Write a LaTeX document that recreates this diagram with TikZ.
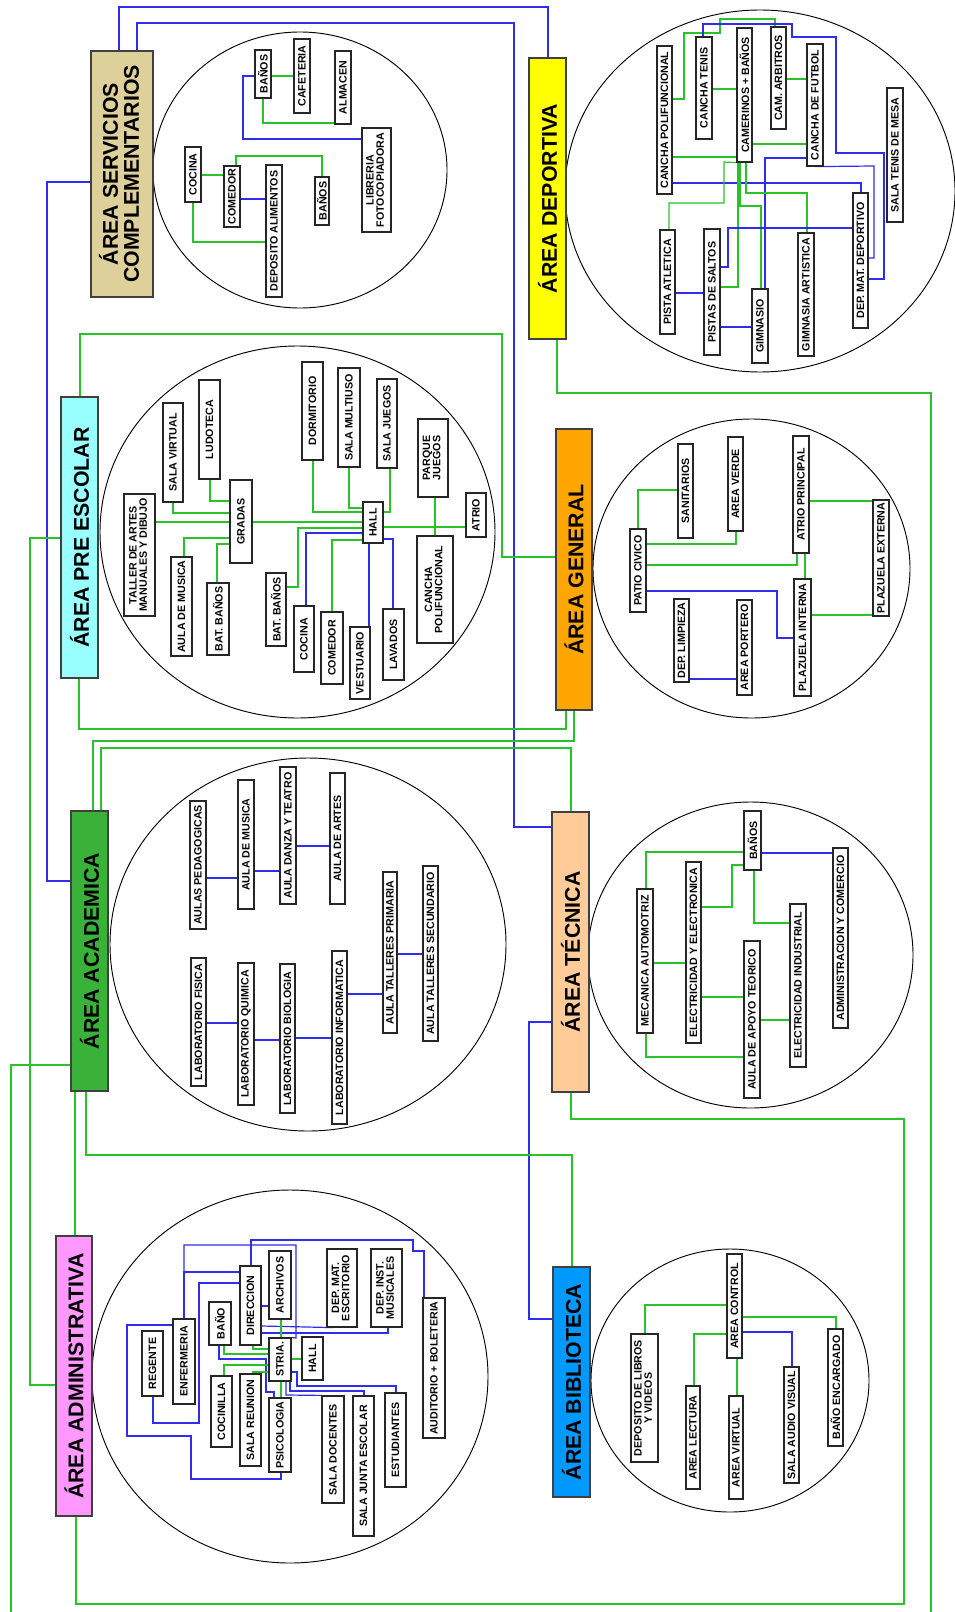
\documentclass[tikz,border=0pt]{standalone}
\usepackage{fontspec}
\setmainfont{Liberation Sans}
\usepackage{graphicx}
\usetikzlibrary{calc}
\pgfdeclarelayer{bg}
\pgfsetlayers{bg,main}
\definecolor{lg}{RGB}{40,195,40}
\definecolor{lb}{RGB}{45,45,235}
\definecolor{cServ}{RGB}{221,208,155}
\definecolor{cDep}{RGB}{255,255,0}
\definecolor{cPre}{RGB}{153,255,255}
\definecolor{cGen}{RGB}{255,166,0}
\definecolor{cAca}{RGB}{58,178,58}
\definecolor{cTec}{RGB}{255,204,153}
\definecolor{cAdm}{RGB}{255,153,255}
\definecolor{cBib}{RGB}{0,153,255}
\newcommand{\smf}{\fontsize{8}{8.6}\selectfont\bfseries}
\newcommand{\bgf}{\fontsize{16}{18}\selectfont\bfseries}
\renewcommand{\arraystretch}{0.85}
\newcommand{\tl}[2]{\begin{tabular}{@{}c@{}}#1\\#2\end{tabular}}
\newcommand{\sbx}[6]{\node[smallbox,minimum width={(#3-#2)*0.75pt},minimum height={(#5-#4)*0.75pt}] (#1) at ({(#2+#3)/2},{(#4+#5)/2}) {\rotatebox{90}{#6}};}
\newcommand{\abx}[7]{\node[areabox,fill=#6,minimum width={(#3-#2)*0.75pt},minimum height={(#5-#4)*0.75pt}] (#1) at ({(#2+#3)/2},{(#4+#5)/2}) {\rotatebox{90}{#7}};}
\newcommand{\zone}[4]{\draw[zoneline] (#1,#2) ellipse [x radius={#3*0.75pt}, y radius={#4*0.75pt}];}
\tikzset{
  gr/.style={draw=lg,line width=0.9pt},
  bl/.style={draw=lb,line width=0.9pt},
  smallbox/.style={draw=black!85,line width=0.9pt,fill=white,inner sep=0pt,font=\smf},
  areabox/.style={draw=black!75,line width=1.3pt,inner sep=0pt,font=\bgf},
  zoneline/.style={draw=black,line width=0.7pt}
}
\begin{document}
\begin{tikzpicture}[x=0.75pt,y=-0.75pt]
\useasboundingbox (0,0) rectangle (954,1612);
\begin{pgfonlayer}{bg}
\fill[white] (0,0) rectangle (954,1612);
\zone{300}{170}{147}{138}
\zone{760}{191}{195}{181}
\zone{297.5}{532}{197.5}{186}
\zone{751.5}{568.5}{158.5}{149.5}
\zone{308}{944.5}{198}{186.5}
\zone{750.5}{955}{162.5}{153}
\zone{290}{1376.5}{198}{186.5}
\zone{730}{1380.5}{139}{131.5}
\end{pgfonlayer}

% ---------- area boxes ----------
\abx{aServ}{91}{153}{51}{297}{cServ}{\tl{ÁREA SERVICIOS}{COMPLEMENTARIOS}}
\abx{aDep}{529}{566}{58}{339}{cDep}{ÁREA DEPORTIVA}
\abx{aPre}{61}{98}{397}{678}{cPre}{ÁREA PRE ESCOLAR}
\abx{aGen}{556}{592}{429}{710}{cGen}{ÁREA GENERAL}
\abx{aAca}{71}{108}{811}{1091}{cAca}{ÁREA ACADEMICA}
\abx{aTec}{552}{589}{812}{1092}{cTec}{ÁREA TÉCNICA}
\abx{aAdm}{56}{92}{1236}{1516}{cAdm}{ÁREA ADMINISTRATIVA}
\abx{aBib}{553}{590}{1267}{1497}{cBib}{ÁREA BIBLIOTECA}

% ---------- servicios ----------
\sbx{sBan1}{255}{271}{50}{98}{BAÑOS}
\sbx{sCaf}{294}{310}{39}{113}{CAFETERIA}
\sbx{sAlm}{335}{351}{51}{124}{ALMACEN}
\sbx{sLib}{362}{391}{128}{232}{\tl{LIBRERIA}{FOTOCOPIADORA}}
\sbx{sCoc}{185}{201}{147}{202}{COCINA}
\sbx{sCom}{224}{240}{166}{227}{COMEDOR}
\sbx{sDep}{266}{282}{165}{297}{DEPOSITO ALIMENTOS}
\sbx{sBan2}{315}{329}{177}{225}{BAÑOS}

% ---------- deportiva ----------
\sbx{dPol}{657}{672}{46}{194}{CANCHA POLIFUNCIONAL}
\sbx{dTen}{696}{712}{37}{139}{CANCHA TENIS}
\sbx{dCam}{737}{752}{28}{162}{CAMERINOS + BAÑOS}
\sbx{dArb}{771}{786}{27}{129}{CAM. ARBITROS}
\sbx{dFut}{807}{823}{44}{166}{CANCHA DE FUTBOL}
\sbx{dMes}{887}{903}{88}{222}{SALA TENIS DE MESA}
\sbx{dAtl}{660}{675}{230}{334}{PISTA ATLETICA}
\sbx{dSal}{704}{720}{229}{355}{PISTAS DE SALTOS}
\sbx{dGim}{752}{768}{289}{363}{GIMNASIO}
\sbx{dArt}{798}{814}{233}{356}{GIMNASIA ARTISTICA}
\sbx{dMat}{853}{868}{193}{328}{DEP. MAT. DEPORTIVO}

% ---------- pre escolar ----------
\sbx{pVir}{163}{183}{403}{502}{SALA VIRTUAL}
\sbx{pLud}{199}{220}{380}{479}{LUDOTECA}
\sbx{pGra}{230}{252}{480}{563}{GRADAS}
\sbx{pTal}{124}{155}{494}{616}{\tl{TALLER DE ARTES}{MANUALES Y DIBUJO}}
\sbx{pMus}{171}{192}{557}{656}{AULA DE MUSICA}
\sbx{pBa1}{207}{229}{583}{655}{BAT. BAÑOS}
\sbx{pDor}{302}{323}{362}{460}{DORMITORIO}
\sbx{pMul}{338}{360}{368}{467}{SALA MULTIUSO}
\sbx{pJue}{377}{397}{379}{468}{SALA JUEGOS}
\sbx{pPar}{418}{448}{419}{497}{\tl{PARQUE}{JUEGOS}}
\sbx{pHal}{363}{383}{502}{543}{HALL}
\sbx{pAtr}{466}{486}{493}{537}{ATRIO}
\sbx{pCan}{417}{453}{536}{643}{\tl{CANCHA}{POLIFUNCIONAL}}
\sbx{pBa2}{266}{286}{573}{646}{BAT. BAÑOS}
\sbx{pCoc}{294}{314}{606}{672}{COCINA}
\sbx{pCom}{321}{343}{612}{684}{COMEDOR}
\sbx{pVes}{350}{370}{627}{699}{VESTUARIO}
\sbx{pLav}{383}{404}{609}{680}{LAVADOS}

% ---------- general ----------
\sbx{gSan}{678}{693}{444}{538}{SANITARIOS}
\sbx{gVer}{728}{743}{437}{531}{AREA VERDE}
\sbx{gAtr}{793}{809}{436}{553}{ATRIO PRINCIPAL}
\sbx{gPat}{630}{646}{529}{612}{PATIO CIVICO}
\sbx{gExt}{873}{889}{500}{616}{PLAZUELA EXTERNA}
\sbx{gLim}{674}{689}{599}{682}{DEP. LIMPIEZA}
\sbx{gPor}{737}{752}{600}{695}{AREA PORTERO}
\sbx{gInt}{794}{811}{579}{696}{PLAZUELA INTERNA}

% ---------- academica ----------
\sbx{cPed}{190}{206}{801}{929}{AULAS PEDAGOGICAS}
\sbx{cMus}{238}{254}{780}{909}{AULA DE MUSICA}
\sbx{cDan}{280}{296}{767}{904}{AULA DANZA Y TEATRO}
\sbx{cArt}{330}{345}{773}{904}{AULA DE ARTES}
\sbx{cFis}{191}{206}{958}{1086}{LABORATORIO FISICA}
\sbx{cQui}{238}{254}{963}{1105}{LABORATORIO QUIMICA}
\sbx{cBio}{280}{295}{964}{1113}{LABORATORIO BIOLOGIA}
\sbx{cInf}{332}{347}{951}{1124}{LABORATORIO INFORMATICA}
\sbx{cPri}{383}{397}{872}{1033}{AULA TALLERES PRIMARIA}
\sbx{cSec}{423}{438}{866}{1041}{AULA TALLERES SECUNDARIO}

% ---------- tecnica ----------
\sbx{tBan}{744}{761}{811}{870}{BAÑOS}
\sbx{tAdm}{833}{848}{848}{1028}{ADMINISTRACION Y COMERCIO}
\sbx{tMec}{637}{653}{889}{1033}{MECANICA AUTOMOTRIZ}
\sbx{tEle}{686}{701}{862}{1043}{ELECTRICIDAD Y ELECTRONICA}
\sbx{tApo}{744}{760}{941}{1098}{AULA DE APOYO TEORICO}
\sbx{tInd}{790}{806}{904}{1067}{ELECTRICIDAD INDUSTRIAL}

% ---------- administrativa ----------
\sbx{mReg}{142}{163}{1331}{1396}{REGENTE}
\sbx{mEnf}{173}{195}{1319}{1404}{ENFERMERIA}
\sbx{mBan}{209}{231}{1302}{1345}{BAÑO}
\sbx{mDir}{240}{261}{1266}{1345}{DIRECCION}
\sbx{mArc}{269}{291}{1251}{1319}{ARCHIVOS}
\sbx{mMat}{327}{357}{1249}{1327}{\tl{DEP. MAT.}{ESCRITORIO}}
\sbx{mIns}{371}{402}{1249}{1327}{\tl{DEP. INST.}{MUSICALES}}
\sbx{mAud}{423}{445}{1298}{1438}{AUDITORIO + BOLETERIA}
\sbx{mStr}{269}{291}{1338}{1381}{STRIA.}
\sbx{mHal}{302}{323}{1337}{1380}{HALL}
\sbx{mCoc}{211}{232}{1376}{1447}{COCINILLA}
\sbx{mReu}{240}{261}{1374}{1466}{SALA REUNION}
\sbx{mPsi}{269}{291}{1398}{1472}{PSICOLOGIA}
\sbx{mDoc}{322}{344}{1396}{1503}{SALA DOCENTES}
\sbx{mJun}{353}{374}{1396}{1536}{SALA JUNTA ESCOLAR}
\sbx{mEst}{385}{406}{1393}{1487}{ESTUDIANTES}

% ---------- biblioteca ----------
\sbx{bCon}{727}{742}{1254}{1358}{AREA CONTROL}
\sbx{bDep}{631}{658}{1334}{1462}{\tl{DEPOSITO DE LIBROS}{Y VIDEOS}}
\sbx{bLec}{686}{700}{1386}{1489}{AREA LECTURA}
\sbx{bVir}{729}{743}{1396}{1499}{AREA VIRTUAL}
\sbx{bAud}{784}{799}{1367}{1483}{SALA AUDIO VISUAL}
\sbx{bBan}{828}{843}{1329}{1446}{BAÑO ENCARGADO}

\begin{pgfonlayer}{bg}
% ----- outer connectors -----
\draw[bl] (aServ.north -| 119,0) -- (119,7) -- (548,7) -- (aDep.north -| 548,0);
\draw[bl] (aServ.north -| 137,0) -- (137,23) -- (514,23) -- (514,827) -- (aTec.west |- 0,827);
\draw[bl] (aServ.west |- 0,182) -- (47,182) -- (47,881) -- (aAca.west |- 0,881);
\draw[bl] (aTec.west |- 0,1022) -- (529,1022) -- (529,1319) -- (aBib.west |- 0,1319);
\draw[gr] (aDep.south -| 557,0) -- (557,393) -- (931,393) -- (931,1612);
\draw[gr] (aPre.north -| 80,0) -- (80,334) -- (502,334) -- (502,557) -- (aGen.west |- 0,557);
\draw[gr] (aPre.west |- 0,538) -- (30,538) -- (30,1385) -- (aAdm.west |- 0,1385);
\draw[gr] (aPre.south -| 79,0) -- (79,729) -- (566,729) -- (aGen.south -| 566,0);
\draw[gr] (aAca.north -| 93,0) -- (93,741) -- (574,741) -- (aGen.south -| 574,0);
\draw[gr] (aAca.north -| 101,0) -- (101,748) -- (571,748) -- (aTec.north -| 571,0);
\draw[gr] (aAca.west |- 0,1065) -- (11,1065) -- (11,1612);
\draw[gr] (aAca.south -| 75,0) -- (aAdm.north -| 75,0);
\draw[gr] (aAca.south -| 86,0) -- (86,1155) -- (572,1155) -- (aBib.north -| 572,0);
\draw[gr] (aTec.south -| 571,0) -- (571,1119) -- (904,1119) -- (904,1604) -- (76,1604) -- (aAdm.south -| 76,0);

% ----- servicios -----
\draw[gr] (sBan1.east |- 0,76) -- (sCaf.west |- 0,76);
\draw[gr] (sBan1.south -| 263,0) -- (263,123) -- (sAlm.west |- 0,123);
\draw[bl] (sBan1.west |- 0,76) -- (243,76) -- (243,139) -- (sLib.west |- 0,139);
\draw[gr] (sCoc.east |- 0,175) -- (sCom.west |- 0,175);
\draw[gr] (sCom.north -| 236,0) -- (236,156) -- (322,156) -- (sBan2.north -| 322,0);
\draw[bl] (sCom.east |- 0,199) -- (sDep.west |- 0,199);
\draw[gr] (sCoc.south -| 193,0) -- (193,242) -- (sDep.west |- 0,242);

% ----- deportiva -----
\draw[gr] (dPol.east |- 0,99) -- (684,99) -- (684,33) -- (720,33) -- (720,19) -- (775,19) -- (dArb.north -| 775,0);
\draw[bl] (dTen.north -| 703,0) -- (703,24) -- (792,24) -- (792,37) -- (836,37) -- (836,153) -- (884,153) -- (884,279) -- (dMat.east |- 0,279);
\draw[gr] (dTen.east |- 0,89) -- (dCam.west |- 0,89);
\draw[gr] (dArb.east |- 0,79) -- (dFut.west |- 0,79);
\draw[gr] (dCam.east |- 0,144) -- (dFut.west |- 0,144);
\draw[gr] (dPol.east |- 0,157) -- (dCam.west |- 0,157);
\draw[bl] (dPol.east |- 0,183) -- (861,183) -- (dMat.north -| 861,0);
\draw[bl] (dFut.west |- 0,158) -- (765,158) -- (dGim.north -| 765,0);
\draw[bl] (dFut.south -| 815,0) -- (874,166) -- (874,258) -- (dMat.east |- 0,258);
\draw[gr] (dCam.south west) -- (724,162) -- (724,203) -- (669,203) -- (dAtl.north -| 669,0);
\draw[gr] (dCam.south -| 738,0) -- (738,287) -- (dSal.east |- 0,287);
\draw[gr] (dCam.south -| 740,0) -- (740,206) -- (761,206) -- (dGim.north -| 761,0);
\draw[gr] (dCam.south -| 746,0) -- (746,193) -- (807,193) -- (dArt.north -| 807,0);
\draw[bl] (dMat.west |- 0,228) -- (728,228) -- (728,267) -- (dSal.east |- 0,267);
\draw[bl] (dAtl.east |- 0,293) -- (dSal.west |- 0,293);
\draw[bl] (dSal.east |- 0,327) -- (dGim.west |- 0,327);

% ----- pre escolar -----
\draw[gr] (pVir.south -| 173,0) -- (173,513) -- (pGra.west |- 0,513);
\draw[gr] (pLud.south -| 210,0) -- (210,501) -- (pGra.west |- 0,501);
\draw[gr] (pTal.east |- 0,522) -- (pGra.west |- 0,522);
\draw[gr] (pGra.east |- 0,522) -- (pHal.west |- 0,522);
\draw[gr] (pGra.west |- 0,538) -- (184,538) -- (pMus.north -| 184,0);
\draw[gr] (pGra.west |- 0,544) -- (217,544) -- (pBa1.north -| 217,0);
\draw[gr] (pDor.south -| 313,0) -- (313,512) -- (pHal.west |- 0,512);
\draw[gr] (pMul.south -| 349,0) -- (349,508) -- (pHal.west |- 0,508);
\draw[gr] (pJue.south -| 390,0) -- (390,512) -- (pHal.east |- 0,512);
\draw[gr] (pHal.east |- 0,527) -- (pAtr.west |- 0,527);
\draw[gr] (pPar.south -| 435,0) -- (pCan.north -| 435,0);
\draw[gr] (pHal.west |- 0,528) -- (298,528) -- (298,587) -- (pBa2.east |- 0,587);
\draw[bl] (pHal.west |- 0,533) -- (306,533) -- (pCoc.north -| 306,0);
\draw[gr] (pHal.west |- 0,540) -- (332,540) -- (pCom.north -| 332,0);
\draw[bl] (pHal.south -| 369,0) -- (pVes.north -| 369,0);
\draw[bl] (pHal.east |- 0,539) -- (393,539) -- (pLav.north -| 393,0);

% ----- general -----
\draw[gr] (gPat.north -| 638,0) -- (638,490) -- (gSan.west |- 0,490);
\draw[gr] (gPat.east |- 0,544) -- (736,544) -- (gVer.south -| 736,0);
\draw[gr] (gPat.east |- 0,565) -- (797,565) -- (gAtr.south -| 797,0);
\draw[gr] (gAtr.east |- 0,501) -- (gExt.west |- 0,501);
\draw[gr] (gAtr.south -| 805,0) -- (gInt.north -| 805,0);
\draw[gr] (gInt.east |- 0,615) -- (gExt.west |- 0,615);
\draw[bl] (gPat.east |- 0,591) -- (777,591) -- (777,638) -- (gInt.west |- 0,638);
\draw[bl] (gLim.east |- 0,679) -- (gPor.west |- 0,679);

% ----- academica -----
\draw[bl] (cPed.east |- 0,878) -- (cMus.west |- 0,878);
\draw[bl] (cMus.east |- 0,871) -- (cDan.west |- 0,871);
\draw[bl] (cDan.east |- 0,846) -- (cArt.west |- 0,846);
\draw[bl] (cFis.east |- 0,1023) -- (cQui.west |- 0,1023);
\draw[bl] (cQui.east |- 0,1040) -- (cBio.west |- 0,1040);
\draw[bl] (cBio.east |- 0,1038) -- (cInf.west |- 0,1038);
\draw[bl] (cInf.east |- 0,994) -- (cPri.west |- 0,994);
\draw[bl] (cPri.east |- 0,954) -- (cSec.west |- 0,954);

% ----- tecnica -----
\draw[gr] (tBan.west |- 0,852) -- (646,852) -- (tMec.north -| 646,0);
\draw[gr] (tBan.west |- 0,865) -- (732,865) -- (732,907) -- (tEle.east |- 0,907);
\draw[gr] (tBan.south -| 754,0) -- (754,923) -- (tInd.west |- 0,923);
\draw[bl] (tBan.east |- 0,853) -- (tAdm.west |- 0,853);
\draw[gr] (tMec.east |- 0,963) -- (tEle.west |- 0,963);
\draw[gr] (tEle.east |- 0,997) -- (tApo.west |- 0,997);
\draw[gr] (tApo.east |- 0,1020) -- (tInd.west |- 0,1020);
\draw[gr] (tMec.south -| 646,0) -- (646,1057) -- (tApo.west |- 0,1057);

% ----- administrativa -----
\draw[bl] (mEnf.north -| 184,0) -- (184,1245) -- (296,1245) -- (296,1338) -- (mStr.north east);
\draw[bl] (mEnf.north -| 184,0) -- (184,1272) -- (mDir.west |- 0,1272);
\draw[bl] (mDir.west |- 0,1283) -- (199,1283) -- (199,1423) -- (153,1423) -- (mReg.south -| 153,0);
\draw[bl] (mDir.north -| 251,0) -- (251,1240) -- (413,1240) -- (413,1251) -- (424,1251) -- (mAud.north -| 424,0);
\draw[bl] (mEnf.west |- 0,1325) -- (127,1325) -- (127,1436) -- (191,1436) -- (191,1479) -- (281,1479) -- (mPsi.south -| 281,0);
\draw[bl] (mDir.east |- 0,1306) -- (mArc.west |- 0,1306);
\draw[bl] (mDir.east |- 0,1326) -- (mMat.south -| 334,0);
\draw[bl] (mDir.east |- 0,1333) -- (388,1333) -- (mIns.south -| 388,0);
\draw[bl] (mBan.south -| 219,0) -- (219,1359) -- (266,1359) -- (266,1392) -- (274,1392) -- (mPsi.north -| 274,0);
\draw[bl] (mStr.east |- 0,1372) -- (297,1372) -- (297,1386) -- (396,1386) -- (mEst.north -| 396,0);
\draw[bl] (mStr.south -| 286,0) -- (286,1395) -- (mDoc.north west);
\draw[bl] (mStr.south -| 290,0) -- (290,1391) -- (364,1391) -- (mJun.north -| 364,0);
\draw[gr] (mBan.south -| 224,0) -- (224,1354) -- (mStr.west |- 0,1354);
\draw[gr] (mDir.south -| 253,0) -- (253,1349) -- (mStr.west |- 0,1349);
\draw[gr] (mArc.south -| 281,0) -- (mStr.north -| 281,0);
\draw[gr] (mStr.east |- 0,1359) -- (mHal.west |- 0,1359);
\draw[gr] (mCoc.north -| 224,0) -- (224,1365) -- (mStr.west |- 0,1365);
\draw[gr] (mReu.north -| 253,0) -- (253,1372) -- (mStr.west |- 0,1372);
\draw[gr] (mStr.south -| 281,0) -- (mPsi.north -| 281,0);

% ----- biblioteca -----
\draw[gr] (bCon.west |- 0,1305) -- (645,1305) -- (bDep.north -| 645,0);
\draw[gr] (bCon.west |- 0,1334) -- (694,1334) -- (bLec.north -| 694,0);
\draw[gr] (bCon.south -| 737,0) -- (bVir.north -| 737,0);
\draw[gr] (bCon.east |- 0,1317) -- (836,1317) -- (bBan.north -| 836,0);
\draw[bl] (bCon.east |- 0,1332) -- (792,1332) -- (bAud.north -| 792,0);
\end{pgfonlayer}
\end{tikzpicture}
\end{document}
